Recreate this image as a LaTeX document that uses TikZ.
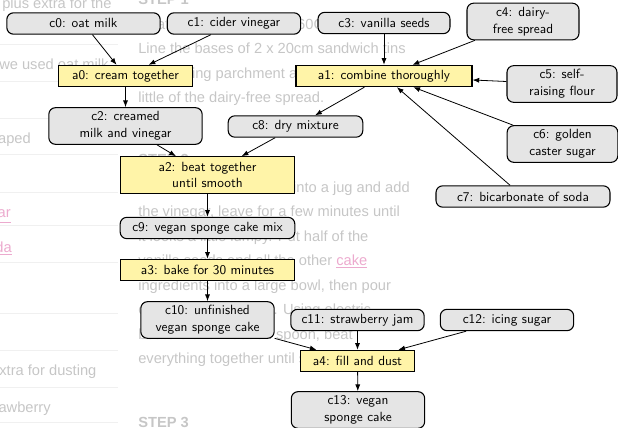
\documentclass[tikz,border=0pt]{standalone}
\usepackage{fontspec}
\usepackage{tikz}
\usetikzlibrary{arrows.meta}
\newfontfamily\pagefont{Liberation Sans}
\definecolor{actyellow}{RGB}{255,244,168}
\definecolor{ingrgrey}{RGB}{229,229,229}
\definecolor{pagegrey}{RGB}{198,198,198}
\definecolor{linkpink}{RGB}{236,170,206}
\definecolor{rulegrey}{RGB}{240,240,240}
\tikzset{
  ingr/.style={draw, fill=ingrgrey, rounded corners=5pt, line width=0.8pt,
    inner sep=0pt, minimum height=16pt, align=center,
    font=\sffamily\fontsize{10}{12.6}\selectfont},
  act/.style={draw, fill=actyellow, line width=0.8pt,
    inner sep=0pt, minimum height=16pt, align=center,
    font=\sffamily\fontsize{10}{12.6}\selectfont},
  twoline/.style={minimum height=27.5pt},
  flow/.style={-{Latex[length=5pt,width=3.8pt]}, line width=0.6pt},
  pagetext/.style={inner sep=0pt, text=pagegrey,
    font=\pagefont\fontsize{11}{13}\selectfont},
  steptext/.style={pagetext, font=\pagefont\bfseries\fontsize{11}{13}\selectfont},
  pagelink/.style={pagetext, text=linkpink},
  pagerule/.style={draw=rulegrey, line width=0.75pt}
}

\begin{document}
\begin{tikzpicture}[x=0.75pt, y=-0.75pt]
\useasboundingbox (0,0) rectangle (618,428);
\clip (0,0) rectangle (618,428);

\foreach \ry in {45,82,119,154,192,225,262,313,350,387,422}
  \draw[pagerule] (0,\ry) -- (118,\ry);

\node[pagetext, anchor=base west] (p0) at (2,9) {plus extra for the};
\node[pagetext, anchor=base west] (p1) at (-1,70) {we used oat milk};
\node[pagetext, anchor=base east] (p2) at (31,143) {shaped};
\node[pagelink, anchor=base east] (p3) at (11,217) {\underline{cider vinegar}};
\node[pagelink, anchor=base east] (p4) at (12,252) {\underline{bicarbonate of soda}};
\node[pagetext, anchor=base west] (p5) at (-40,375) {plus extra for dusting};
\node[pagetext, anchor=base west] (p6) at (-18,412) {strawberry};

\node[steptext, anchor=base west] (s1) at (138,5) {STEP 1};
\node[pagetext, anchor=base west] (s1a) at (138,29.5) {Heat the oven to 180C/160C fan/gas 4.};
\node[pagetext, anchor=base west] (s1b) at (138,54) {Line the bases of 2 x 20cm sandwich tins};
\node[pagetext, anchor=base west] (s1c) at (138,78.5) {with baking parchment and grease with a};
\node[pagetext, anchor=base west] (s1d) at (138,103) {little of the dairy-free spread.};
\node[steptext, anchor=base west] (s2) at (138,165) {STEP 2};
\node[pagetext, anchor=base east] (s2a) at (410,192) {Measure the milk into a jug and add};
\node[pagetext, anchor=base west] (s2b) at (138,216.5) {the vinegar, leave for a few minutes until};
\node[pagetext, anchor=base west] (s2c) at (138,241) {it looks a little lumpy. Put half of the};
\node[pagetext, anchor=base west] (s2d) at (138,265.5) {vanilla seeds and all the other \textcolor{linkpink}{\underline{cake}}};
\node[pagetext, anchor=base west] (s2e) at (138,290) {ingredients into a large bowl, then pour};
\node[pagetext, anchor=base west] (s2f) at (138,314.5) {over the milk mixture. Using electric};
\node[pagetext, anchor=base west] (s2g) at (138,339) {beaters or a wooden spoon, beat};
\node[pagetext, anchor=base west] (s2h) at (138,363.5) {everything together until smooth.};
\node[steptext, anchor=base west] (s3) at (138,427) {STEP 3};

\node[ingr, minimum width=115pt] (c0) at (83.5,23.5) {c0: oat milk};
\node[ingr, minimum width=100pt] (c1) at (234,23.5) {c1: cider vinegar};
\node[ingr, minimum width=99pt] (c3) at (384,23) {c3: vanilla seeds};
\node[ingr, twoline, minimum width=84pt] (c4) at (523,21.5) {c4: dairy-\\free spread};
\node[act, minimum width=100pt] (a0) at (125.5,76) {a0: cream together};
\node[act, minimum width=132pt] (a1) at (384,76) {a1: combine thoroughly};
\node[ingr, twoline, minimum width=82.5pt] (c5) at (562,84) {c5: self-\\raising flour};
\node[ingr, twoline, minimum width=115pt] (c2) at (125.5,126) {c2: creamed\\milk and vinegar};
\node[ingr, minimum width=101pt] (c8) at (295.5,126.5) {c8: dry mixture};
\node[ingr, twoline, minimum width=83pt] (c6) at (562.5,144) {c6: golden\\caster sugar};
\node[act, twoline, minimum width=131pt] (a2) at (207.5,175) {a2: beat together\\until smooth};
\node[ingr, minimum width=130.5pt] (c7) at (523,196.5) {c7: bicarbonate of soda};
\node[ingr, minimum width=131pt] (c9) at (207.5,228) {c9: vegan sponge cake mix};
\node[act, minimum width=131pt] (a3) at (207.5,270) {a3: bake for 30 minutes};
\node[ingr, twoline, minimum width=100pt] (c10) at (207.5,320) {c10: unfinished\\vegan sponge cake};
\node[ingr, minimum width=100pt] (c11) at (357.5,320) {c11: strawberry jam};
\node[ingr, minimum width=100pt] (c12) at (507,320) {c12: icing sugar};
\node[act, minimum width=85pt] (a4) at (357.5,361) {a4: fill and dust};
\node[ingr, twoline, minimum width=100pt] (c13) at (358,410) {c13: vegan\\sponge cake};

\draw[flow] (c0) -- (a0);
\draw[flow] (c1) -- (a0);
\draw[flow] (a0) -- (c2);

\draw[flow] (c3) -- (a1);
\draw[flow] (c4) -- (a1);
\draw[flow] (c5) -- (a1);
\draw[flow] (c6) -- (a1);
\draw[flow] (c7) -- (a1);
\draw[flow] (a1) -- (c8);

\draw[flow] (c2) -- (a2);
\draw[flow] (c8) -- (a2);
\draw[flow] (a2) -- (c9);
\draw[flow] (c9) -- (a3);
\draw[flow] (a3) -- (c10);

\draw[flow] (c10) -- (a4);
\draw[flow] (c11) -- (a4);
\draw[flow] (c12) -- (a4);
\draw[flow] (a4) -- (c13);

\end{tikzpicture}
\end{document}
